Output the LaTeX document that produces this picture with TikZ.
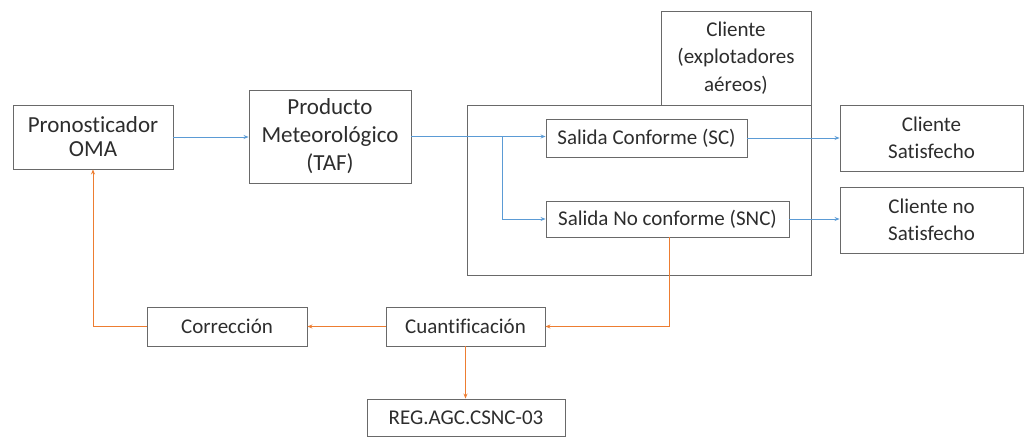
\documentclass[tikz,border=0pt]{standalone}
\usepackage{fontspec}
\setmainfont{Carlito}[Ligatures={NoCommon}]
\usetikzlibrary{arrows.meta}
\definecolor{boxline}{RGB}{105,105,105}
\definecolor{txt}{RGB}{45,45,45}
\definecolor{flowblue}{RGB}{91,155,213}
\definecolor{floworange}{RGB}{237,125,49}
\begin{document}
\begin{tikzpicture}[x=1pt,y=-1pt,
  box/.style={draw=boxline,line width=0.9pt,rectangle,inner sep=0pt,align=center,text=txt,
    font=\fontsize{21}{26.5}\selectfont},
  bluearrow/.style={draw=flowblue,line width=0.8pt,-{Stealth[length=5pt,width=4pt]}},
  orangearrow/.style={draw=floworange,line width=0.8pt,-{Stealth[length=5pt,width=4pt]}}]
\useasboundingbox (0,0) rectangle (1026,437);
\node[box,minimum width=160pt,minimum height=64pt,font=\fontsize{23}{24}\selectfont] (pron) at (93,137) {Pronosticador\\OMA};
\node[box,minimum width=162pt,minimum height=93pt,font=\fontsize{23}{28}\selectfont] (prod) at (330,136.5) {Producto\\Meteorológico\\(TAF)};
\node[box,minimum width=344pt,minimum height=170pt] (big) at (639,190) {};
\node[box,minimum width=150pt,minimum height=94pt,font=\fontsize{21}{27.5}\selectfont] (tab) at (736,58) {Cliente\\(explotadores\\aéreos)};
\node[box,minimum width=201pt,minimum height=38pt] (sc) at (646.5,138) {Salida Conforme (SC)};
\node[box,minimum width=243pt,minimum height=36pt] (snc) at (667.5,219) {Salida No conforme (SNC)};
\node[box,minimum width=183pt,minimum height=66pt] (cs) at (931.5,138) {Cliente\\Satisfecho};
\node[box,minimum width=183pt,minimum height=66pt] (cns) at (931.5,220) {Cliente no\\Satisfecho};
\node[box,minimum width=160pt,minimum height=39pt] (corr) at (227,326.5) {Corrección};
\node[box,minimum width=159pt,minimum height=39pt] (cuant) at (465.5,326.5) {Cuantificación};
\node[box,minimum width=198pt,minimum height=37pt] (reg) at (466,417.5) {REG.AGC.CSNC-03};
\coordinate (br) at (502,137);
\draw[bluearrow] (pron.east) -- (pron.east -| prod.west);
\draw[bluearrow] (prod.east) -- (prod.east -| sc.west);
\draw[bluearrow] (br) |- (snc.west);
\draw[bluearrow] (sc.east) -- (sc.east -| cs.west);
\draw[bluearrow] (snc.east) -- (snc.east -| cns.west);
\draw[orangearrow] ([xshift=1.5pt]snc.south) |- (cuant.east);
\draw[orangearrow] (cuant.west) -- (corr.east);
\draw[orangearrow] (corr.west) -| (pron.south);
\draw[orangearrow] (cuant.south) -- (cuant.south |- reg.north);
\end{tikzpicture}
\end{document}
